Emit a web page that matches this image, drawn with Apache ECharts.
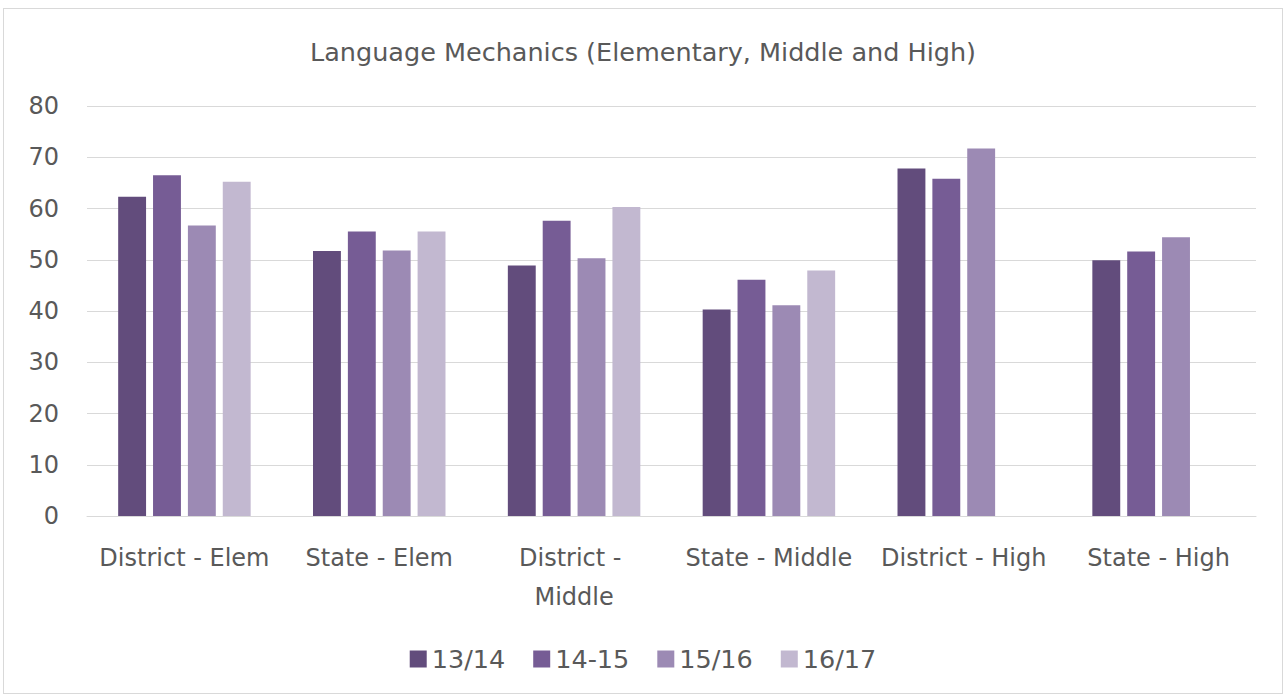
<!DOCTYPE html>
<html>
  <head>
    <title>Language Mechanics</title>
    <style>
      html,
      body {
        height: 100%;
        margin: 0;
        padding: 0;
        background: #fff;
      }
      #chart-container {
        position: absolute;
        left: 3px;
        top: 8px;
        width: 1280px;
        height: 686px;
        border: 1px solid #d9d9d9;
        box-sizing: border-box;
      }
    </style>
    <script src="https://cdn.jsdelivr.net/npm/echarts@6/dist/echarts.min.js"></script>
  </head>
  <body>
    <div id="chart-container"></div>

    <script>
      // 分类和各学年数据
      var categories = [
        "District - Elem",
        "State - Elem",
        "District - Middle",
        "State - Middle",
        "District - High",
        "State - High",
      ];
      var y1314 = [62.3, 51.7, 48.9, 40.3, 67.8, 49.9];
      var y1415 = [66.5, 55.5, 57.6, 46.1, 65.8, 51.6];
      var y1516 = [56.7, 51.8, 50.3, 41.1, 71.7, 54.4];
      var y1617 = [65.2, 55.5, 60.3, 47.9, null, null];
      var seriesNames = ["13/14", "14-15", "15/16", "16/17"];
      var colors = ["#624c7c", "#765c95", "#9c8ab4", "#c2b8d0"];

      var font = "'DejaVu Sans', 'Open Sans', sans-serif";
      var textColor = "#595959";

      var myChart = echarts.init(document.getElementById("chart-container"), "", {
        renderer: "svg",
      });

      var allData = [y1314, y1415, y1516, y1617];
      var series = seriesNames.map(function (name, i) {
        return {
          name: name,
          type: "bar",
          data: allData[i],
          itemStyle: { color: colors[i] },
          barGap: "25%",
          barCategoryGap: "32%",
        };
      });

      var option = {
        title: {
          text: "Language Mechanics (Elementary, Middle and High)",
          left: "center",
          top: 25,
          textStyle: {
            fontFamily: font,
            fontSize: 25.5,
            fontWeight: "normal",
            color: textColor,
          },
        },
        legend: {
          bottom: 16,
          left: "center",
          icon: "rect",
          itemWidth: 17,
          itemHeight: 17,
          itemGap: 28,
          textStyle: { fontFamily: font, fontSize: 25.5, color: textColor },
          data: seriesNames,
        },
        // 控制图表四周留白
        grid: {
          left: 83,
          right: 26,
          top: 97,
          bottom: 177,
        },
        xAxis: {
          type: "category",
          data: categories,
          axisLine: { lineStyle: { color: "#d9d9d9", width: 1 } },
          axisTick: { show: false },
          axisLabel: {
            interval: 0,
            margin: 22,
            fontFamily: font,
            fontSize: 24,
            color: textColor,
            width: 188,
            overflow: "break",
            lineHeight: 39,
          },
        },
        yAxis: {
          type: "value",
          min: 0,
          max: 80,
          interval: 10,
          axisLine: { show: false },
          axisTick: { show: false },
          splitLine: { lineStyle: { color: "#d9d9d9", width: 1 } },
          axisLabel: {
            margin: 28,
            fontFamily: font,
            fontSize: 24,
            color: textColor,
          },
        },
        series: series,
      };
      myChart.setOption(option);
    </script>
  </body>
</html>
